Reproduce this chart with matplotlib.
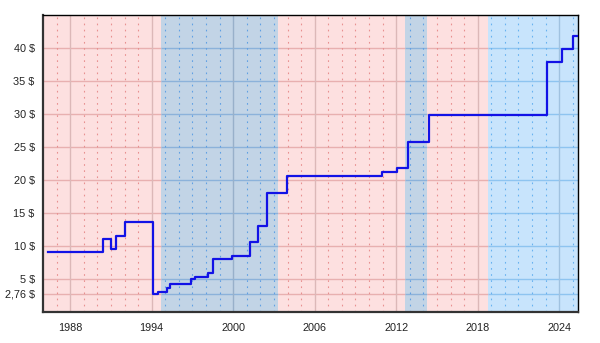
import numpy as np
import matplotlib.pyplot as plt

plt.rcParams['font.family'] = ['Liberation Sans', 'DejaVu Sans']

# step changes (decimal year, value in $)
dates = [1986.33, 1990.43, 1991.0, 1991.36, 1992.0, 1994.13, 1994.43, 1995.15,
         1995.36, 1996.93, 1997.2, 1998.18, 1998.5, 1999.9, 2001.25, 2001.86,
         2002.47, 2003.94, 2010.98, 2012.04, 2012.87, 2014.42, 2023.1, 2024.18,
         2025.0, 2025.4]
values = [9.05, 10.98, 9.46, 11.54, 13.67, 2.76, 3.05, 3.63,
          4.26, 4.9, 5.25, 5.86, 7.94, 8.5, 10.57, 13.0,
          18.09, 20.6, 21.18, 21.83, 25.74, 29.8, 37.85, 39.85,
          41.87, 41.87]

# shaded periods
period_start = [1986.0, 1994.68, 2003.29, 2012.68, 2014.26, 2018.73]
period_end = [1994.68, 2003.29, 2012.68, 2014.26, 2018.73, 2025.4]
period_kind = ['pink', 'dblue', 'pink', 'dblue', 'pink', 'lblue']

yticks = [2.76, 5, 10, 15, 20, 25, 30, 35, 40]
ylabels = ['2,76 $', '5 $', '10 $', '15 $', '20 $', '25 $', '30 $', '35 $', '40 $']
xticks = [1988, 1994, 2000, 2006, 2012, 2018, 2024]

bg = {'pink': '#fde0e0', 'dblue': '#c2d4e6', 'lblue': '#c8e4fc'}
hgrid = {'pink': '#e8b0b0', 'dblue': '#8cb2da', 'lblue': '#8ec4f0'}
vmajor = {'pink': '#dcb8b8', 'dblue': '#98b0ca', 'lblue': '#a0c2e0'}
vminor = {'pink': '#e89090', 'dblue': '#60a0e4', 'lblue': '#68b2f0'}

fig = plt.figure(figsize=(6, 3.43), dpi=100)
ax = fig.add_axes([0.0717, 0.0913, 0.892, 0.865])
x0, x1 = 1986.0, 2025.4
ax.set_xlim(x0, x1)
ax.set_ylim(0, 45.05)

for s, e, k in zip(period_start, period_end, period_kind):
    ax.axvspan(s, e, color=bg[k], lw=0, zorder=0)
    ax.hlines(yticks, s, e, colors=hgrid[k], lw=1, zorder=1)

def kind_at(yr):
    for s, e, k in zip(period_start, period_end, period_kind):
        if s <= yr < e:
            return k
    return period_kind[-1]

for yr in range(1987, 2026):
    k = kind_at(yr)
    if yr in xticks:
        ax.axvline(yr, color=vmajor[k], lw=1, zorder=1)
    else:
        ax.axvline(yr, color=vminor[k], lw=0.8, dashes=(1.5, 4), zorder=1)

ax.step(dates, values, where='post', color='#1212e6', lw=1.6, zorder=3)

ax.set_xticks(xticks)
ax.set_xticklabels([str(t) for t in xticks])
ax.set_yticks(yticks)
ax.set_yticklabels(ylabels)
ax.tick_params(axis='x', length=0, pad=8, labelsize=7.8, colors='#222222')
ax.tick_params(axis='y', length=0, pad=6, labelsize=7.8, colors='#222222')

for side in ['top', 'right']:
    ax.spines[side].set_color('black')
    ax.spines[side].set_linewidth(1)
for side in ['left', 'bottom']:
    ax.spines[side].set_color('#333333')
    ax.spines[side].set_linewidth(1.6)

fig.savefig('out.png', dpi=100)
